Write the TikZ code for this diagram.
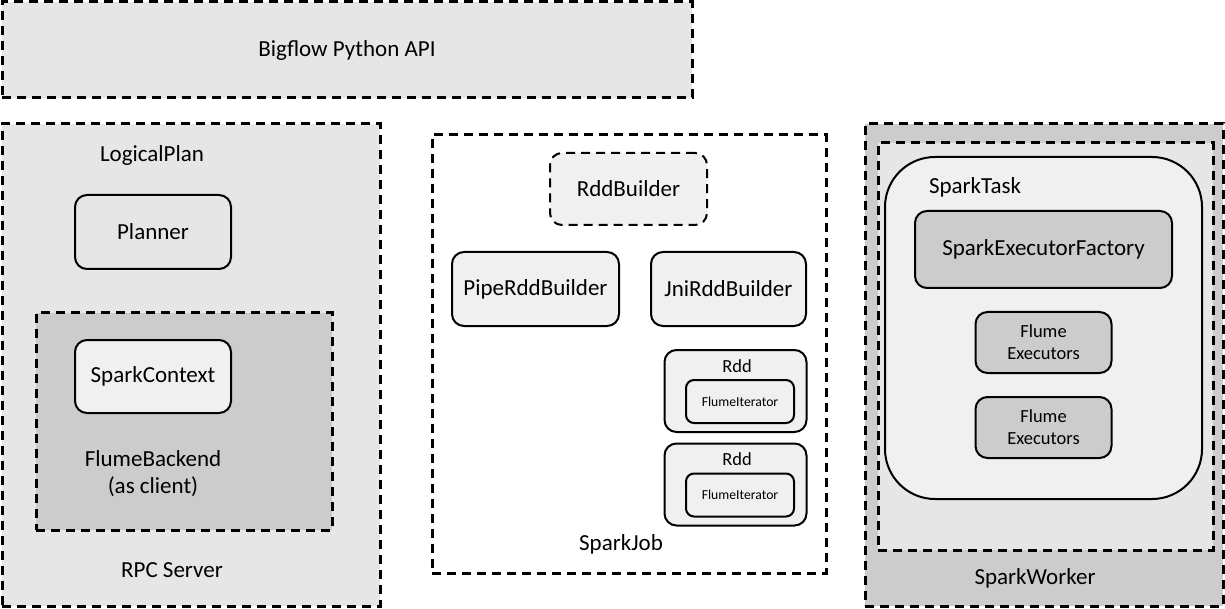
\documentclass[tikz,border=0pt]{standalone}
\usepackage{fontspec}
\setmainfont{Carlito}
\definecolor{paleGray}{HTML}{F0F0F0}
\definecolor{softGray}{HTML}{E6E6E6}
\definecolor{midGray}{HTML}{CCCCCC}
\begin{document}
\begin{tikzpicture}[x=1pt, y=-1pt,
    dashbox/.style={draw, line width=3pt, dash pattern=on 9pt off 6pt},
    roundbox/.style={draw, line width=2pt, rounded corners=12pt, align=center},
    big/.style={font=\fontsize{23}{27}\selectfont, align=center},
    mid/.style={font=\fontsize{18.5}{22}\selectfont, align=center},
    tiny/.style={font=\fontsize{13.7}{15}\selectfont}]
    \useasboundingbox (0,0) rectangle (1225,609);

    % --- Python API ---
    \node[dashbox, fill=softGray, minimum width=690, minimum height=96, big] (api) at (347,50) {Bigflow Python API};

    % --- RPC Server ---
    \node[dashbox, fill=softGray, minimum width=378, minimum height=482] (rpc) at (191,365) {};
    \node[big] (logical) at (152,155) {LogicalPlan};
    \node[big] (rpclabel) at (172,570) {RPC Server};
    \node[roundbox, fill=softGray, minimum width=156, minimum height=74, big] (planner) at (153,232) {Planner};
    \node[dashbox, fill=midGray, minimum width=296, minimum height=217] (backend) at (184,421.5) {};
    \node[roundbox, fill=paleGray, minimum width=156, minimum height=73, big] (context) at (153,376.5) {SparkContext};
    \node[big] (backendlabel) at (153,474) {FlumeBackend\\(as client)};

    % --- SparkJob ---
    \node[dashbox, fill=white, minimum width=394, minimum height=438] (job) at (629,354) {};
    \node[roundbox, dash pattern=on 9pt off 6pt, fill=paleGray, minimum width=157, minimum height=72, big] (builder) at (628.5,189) {RddBuilder};
    \node[roundbox, fill=paleGray, minimum width=167, minimum height=74, big] (pipe) at (535.5,289) {PipeRddBuilder};
    \node[roundbox, fill=paleGray, minimum width=155, minimum height=74, big] (jni) at (728.5,289) {JniRddBuilder};
    \foreach \n/\y in {1/391, 2/484.5} {
        \node[roundbox, fill=paleGray, minimum width=142, minimum height=82] (rdd\n) at (735.5,\y) {};
        \node[mid] (rddlabel\n) at (737,\y-25) {Rdd};
        \node[roundbox, rounded corners=8pt, fill=paleGray, minimum width=108, minimum height=43, tiny] (iter\n) at (740,\y+10.5) {FlumeIterator};
    }
    \node[big] (joblabel) at (621,544) {SparkJob};

    % --- SparkWorker ---
    \node[dashbox, fill=midGray, minimum width=358, minimum height=482] (worker) at (1044,365) {};
    \node[big] (workerlabel) at (1035,578) {SparkWorker};
    \node[dashbox, fill=softGray, minimum width=335, minimum height=407] (workerin) at (1045.5,346.5) {};
    \node[roundbox, rounded corners=50pt, fill=paleGray, minimum width=317, minimum height=342] (task) at (1043.5,328) {};
    \node[big] (tasklabel) at (975,187) {SparkTask};
    \node[roundbox, fill=midGray, minimum width=257, minimum height=77, big] (factory) at (1043.5,249.5) {SparkExecutorFactory};
    \foreach \n/\y in {1/342.5, 2/427.5}
        \node[roundbox, fill=midGray, minimum width=136, minimum height=61, mid] (exec\n) at (1043.5,\y) {Flume\\Executors};
\end{tikzpicture}
\end{document}
